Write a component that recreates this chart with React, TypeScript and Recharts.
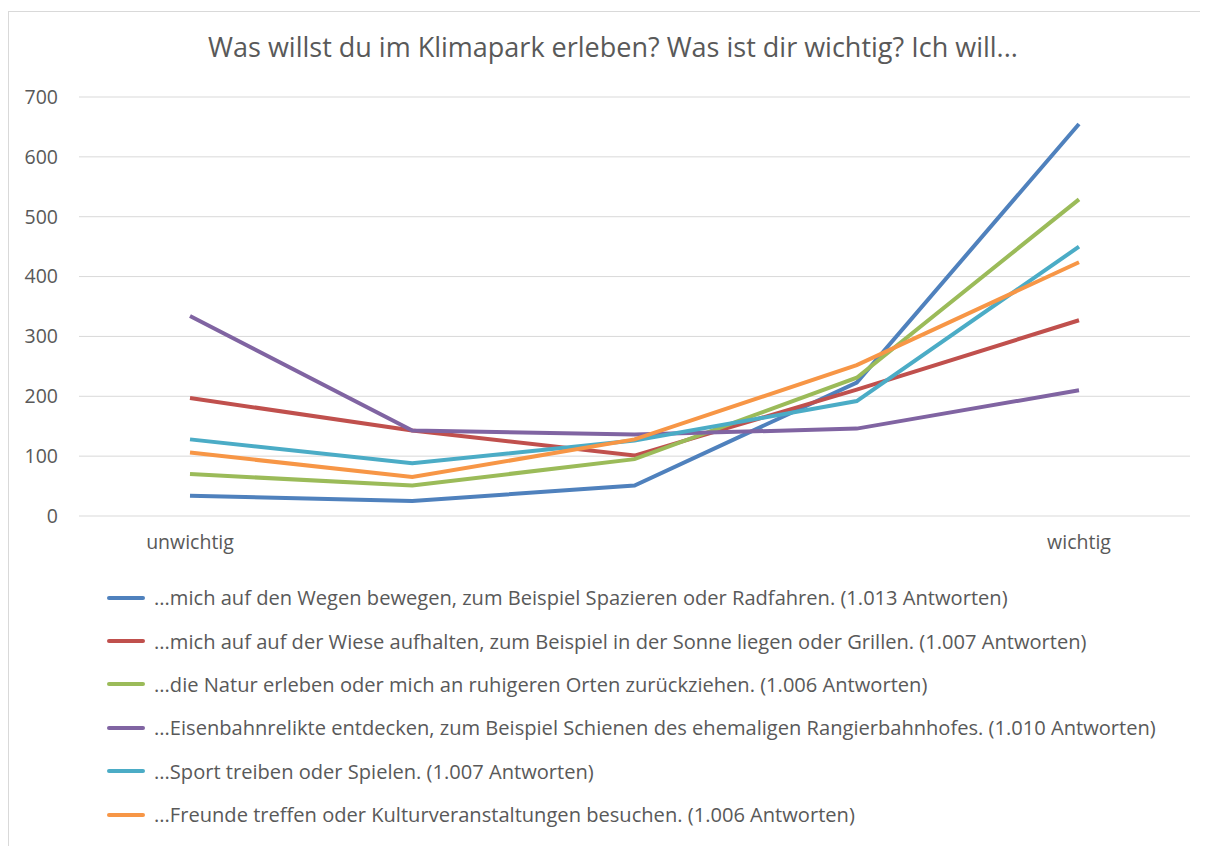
import { LineChart, Line, XAxis, YAxis, CartesianGrid, Legend } from "recharts";

const categories = ["1", "2", "3", "4", "5"];
const tickLabels = ["unwichtig", "", "", "", "wichtig"];

const wegen = [34, 25, 51, 223, 655];
const wiese = [197, 143, 101, 211, 327];
const natur = [70, 51, 95, 231, 529];
const eisenbahn = [334, 143, 136, 146, 210];
const sport = [128, 88, 126, 192, 450];
const freunde = [106, 65, 128, 252, 424];

const yTicks = [0, 100, 200, 300, 400, 500, 600, 700];

const series = [
  { key: "wegen", values: wegen, color: "#4F81BD", name: "...mich auf den Wegen bewegen, zum Beispiel Spazieren oder Radfahren. (1.013 Antworten)" },
  { key: "wiese", values: wiese, color: "#C0504D", name: "...mich auf auf der Wiese aufhalten, zum Beispiel in der Sonne liegen oder Grillen. (1.007 Antworten)" },
  { key: "natur", values: natur, color: "#9BBB59", name: "...die Natur erleben oder mich an ruhigeren Orten zurückziehen. (1.006 Antworten)" },
  { key: "eisenbahn", values: eisenbahn, color: "#8064A2", name: "...Eisenbahnrelikte entdecken, zum Beispiel Schienen des ehemaligen Rangierbahnhofes. (1.010 Antworten)" },
  { key: "sport", values: sport, color: "#4BACC6", name: "...Sport treiben oder Spielen. (1.007 Antworten)" },
  { key: "freunde", values: freunde, color: "#F79646", name: "...Freunde treffen oder Kulturveranstaltungen besuchen. (1.006 Antworten)" },
];

const data = categories.map((c, i) => {
  const row: Record<string, string | number> = { cat: c };
  series.forEach((s) => {
    row[s.key] = s.values[i];
  });
  return row;
});

const font = "'Open Sans', sans-serif";
const textColor = "#595959";

// keep the legend in series order (recharts sorts its payload)
function LegendList() {
  return (
    <div style={{ paddingLeft: 88, height: 260, fontFamily: font }}>
      {series.map((s) => (
        <div
          key={s.key}
          style={{ display: "flex", alignItems: "center", height: 43.4 }}
        >
          <span
            style={{
              display: "inline-block",
              width: 38,
              height: 4,
              borderRadius: 2,
              background: s.color,
              marginRight: 9,
            }}
          />
          <span style={{ fontSize: 20.1, color: textColor, whiteSpace: "nowrap" }}>{s.name}</span>
        </div>
      ))}
    </div>
  );
}

export default function App() {
  return (
    <div
      style={{
        position: "relative",
        width: 1199,
        height: 834,
        marginTop: 3,
        borderLeft: "1px solid #d9d9d9",
        borderTop: "1px solid #d9d9d9",
        background: "#fff",
      }}
    >
      <div
        style={{
          position: "absolute",
          top: 16,
          left: 0,
          width: 1208,
          textAlign: "center",
          fontFamily: font,
          fontSize: 27,
          color: textColor,
        }}
      >
        Was willst du im Klimapark erleben? Was ist dir wichtig? Ich will...
      </div>
      <LineChart
        width={1199}
        height={834}
        data={data}
        margin={{ top: 85, right: 18, bottom: 10, left: 10 }}
      >
        <CartesianGrid vertical={false} stroke="#d9d9d9" strokeWidth={1} />
        <XAxis
          dataKey="cat"
          axisLine={false}
          tickLine={false}
          tickSize={0}
          tickMargin={19}
          height={60}
          padding={{ left: 111, right: 111 }}
          interval={0}
          tickFormatter={(v: string, i: number) => tickLabels[i]}
          tick={{ fill: textColor, fontSize: 19.5, fontFamily: font }}
        />
        <YAxis
          domain={[0, 700]}
          ticks={yTicks}
          width={60}
          axisLine={false}
          tickLine={false}
          tickSize={0}
          tickMargin={21}
          tick={{ fill: textColor, fontSize: 19.5, fontFamily: font }}
        />
        <Legend verticalAlign="bottom" align="left" content={<LegendList />} />
        {series.map((s) => (
          <Line
            key={s.key}
            type="linear"
            dataKey={s.key}
            name={s.name}
            stroke={s.color}
            strokeWidth={4}
            dot={false}
            activeDot={false}
            isAnimationActive={false}
          />
        ))}
      </LineChart>
    </div>
  );
}
